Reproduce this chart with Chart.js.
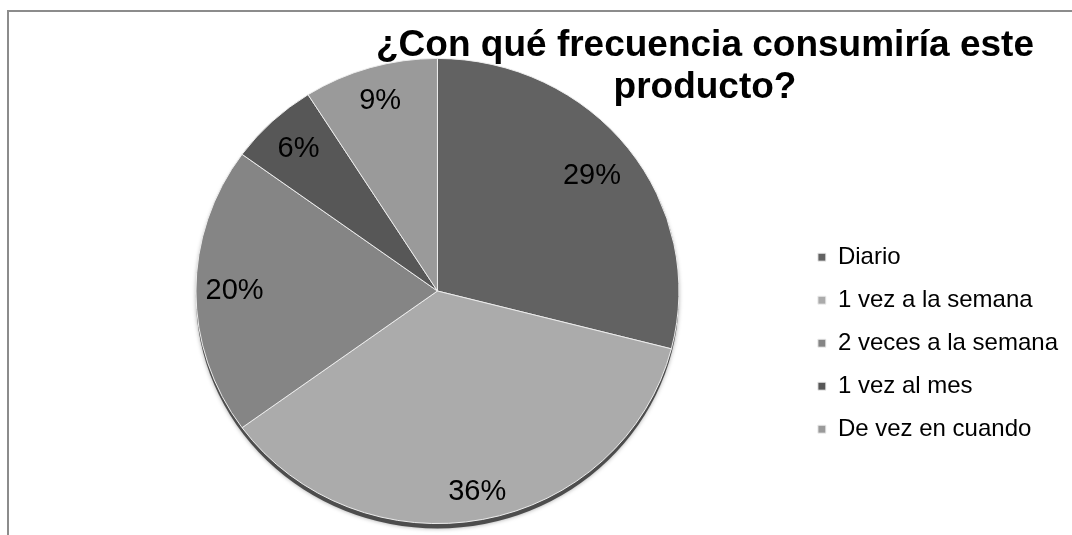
<!DOCTYPE html>
<html lang="es">
<head>
<meta charset="utf-8">
<title>Frecuencia de consumo</title>
<script src="https://cdn.jsdelivr.net/npm/chart.js@4.4.1/dist/chart.umd.min.js"></script>
<style>
  html, body { margin: 0; padding: 0; background: #fff; }
  #wrap { width: 1072px; height: 535px; }
</style>
</head>
<body>
<div id="wrap"><canvas id="frequencyChart" width="1072" height="535"></canvas></div>
<script>
// Survey data
const chartTitle = ['¿Con qué frecuencia consumiría este', 'producto?'];
const categories = ['Diario', '1 vez a la semana', '2 veces a la semana', '1 vez al mes', 'De vez en cuando'];
const shares = [29, 36, 20, 6, 9];
const sliceColors = ['#626262', '#ababab', '#858585', '#575757', '#9a9a9a'];

// Pie is drawn a bit flattened, like a slightly tilted disc
const PIE_SQUASH = 0.963;
const FONT = '"Liberation Sans", Arial, sans-serif';

Chart.defaults.font.family = FONT;

// White background plus the gray frame on the top and left
const framePlugin = {
    id: 'frame',
    beforeDraw(chart) {
        const ctx = chart.ctx;
        ctx.save();
        ctx.fillStyle = '#ffffff';
        ctx.fillRect(0, 0, chart.width, chart.height);
        ctx.strokeStyle = '#8c8c8c';
        ctx.lineWidth = 2;
        ctx.beginPath();
        ctx.moveTo(8, chart.height);
        ctx.lineTo(8, 11);
        ctx.lineTo(chart.width, 11);
        ctx.stroke();
        ctx.restore();
    }
};

// Flattens the pie, adds the dark rim underneath and writes the percentages
const tiltedPiePlugin = {
    id: 'tiltedPie',
    beforeDatasetsDraw(chart) {
        const arc = chart.getDatasetMeta(0).data[0];
        const ctx = chart.ctx;
        ctx.save();
        ctx.translate(arc.x, arc.y);
        ctx.scale(1, PIE_SQUASH);
        ctx.translate(-arc.x, -arc.y);

        ctx.save();
        ctx.shadowColor = 'rgba(0, 0, 0, 0.35)';
        ctx.shadowBlur = 4;
        ctx.fillStyle = '#4d4d4d';
        ctx.beginPath();
        ctx.arc(arc.x, arc.y + 5, arc.outerRadius, 0, Math.PI * 2);
        ctx.fill();
        ctx.restore();
    },
    afterDatasetsDraw(chart, args, opts) {
        const ctx = chart.ctx;
        ctx.restore();

        const meta = chart.getDatasetMeta(0);
        const values = chart.data.datasets[0].data;
        ctx.save();
        ctx.font = opts.fontSize + 'px ' + FONT;
        ctx.fillStyle = '#000000';
        ctx.textAlign = 'center';
        ctx.textBaseline = 'middle';
        meta.data.forEach((arc, i) => {
            const mid = (arc.startAngle + arc.endAngle) / 2;
            const r = arc.outerRadius * opts.distance[i];
            const x = arc.x + Math.cos(mid) * r;
            const y = arc.y + Math.sin(mid) * r * PIE_SQUASH;
            ctx.fillText(values[i] + '%', x, y);
        });
        ctx.restore();
    }
};

// Title sits over the plot, right of centre
const overlayTitlePlugin = {
    id: 'overlayTitle',
    afterDraw(chart, args, opts) {
        const ctx = chart.ctx;
        ctx.save();
        ctx.font = 'bold ' + opts.fontSize + 'px ' + FONT;
        ctx.fillStyle = '#000000';
        ctx.textAlign = 'center';
        ctx.textBaseline = 'alphabetic';
        opts.lines.forEach((line, i) => {
            ctx.fillText(line, opts.x, opts.y + i * opts.lineHeight);
        });
        ctx.restore();
    }
};

const ctx = document.getElementById('frequencyChart').getContext('2d');

new Chart(ctx, {
    type: 'pie',
    data: {
        labels: categories,
        datasets: [{
            data: shares,
            backgroundColor: sliceColors,
            borderColor: '#eeeeee',
            borderWidth: 1
        }]
    },
    plugins: [framePlugin, tiltedPiePlugin, overlayTitlePlugin],
    options: {
        responsive: false,
        animation: false,
        events: [],
        layout: {
            padding: { top: 49, bottom: 2, left: 76, right: 4 }
        },
        plugins: {
            tooltip: { enabled: false },
            title: { display: false },
            legend: {
                position: 'right',
                align: 'center',
                // empty title only pushes the list down
                title: { display: true, text: '', padding: { top: 0, bottom: 90 } },
                labels: {
                    boxWidth: 8,
                    boxHeight: 8,
                    padding: 19,
                    color: '#000000',
                    font: { size: 24 }
                }
            },
            tiltedPie: {
                fontSize: 29,
                distance: [0.81, 0.88, 0.84, 0.84, 0.85]
            },
            overlayTitle: {
                lines: chartTitle,
                x: 705,
                y: 56,
                lineHeight: 42,
                fontSize: 37
            }
        }
    }
});
</script>
</body>
</html>
